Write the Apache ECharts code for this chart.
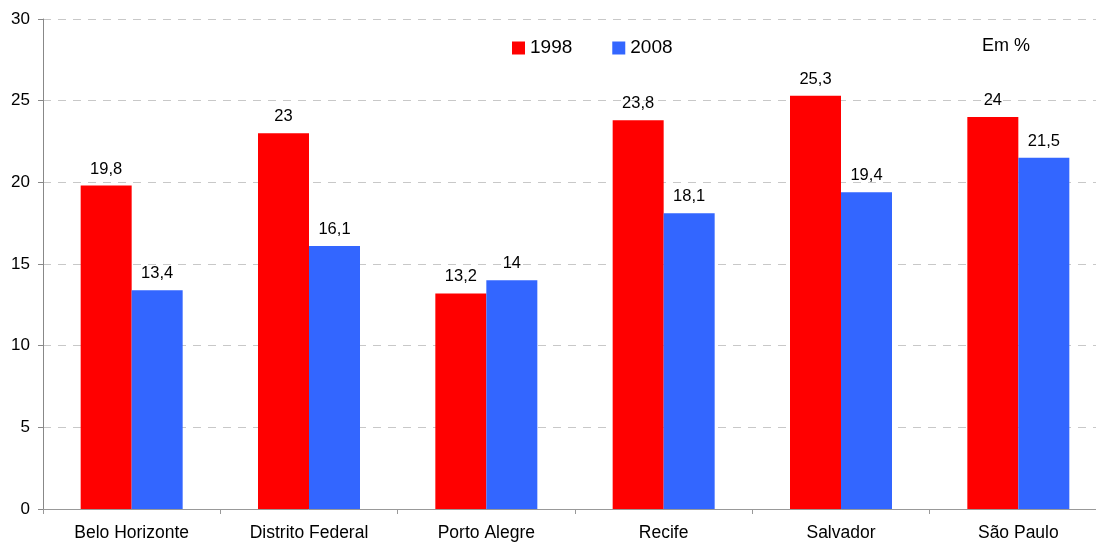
<!DOCTYPE html>
<html>
<head>
<meta charset="utf-8">
<script src="https://cdn.jsdelivr.net/npm/echarts@6/dist/echarts.min.js"></script>
<style>
html,body{margin:0;padding:0;background:#fff;overflow:hidden;}
#c{width:1110px;height:542px;}
</style>
</head>
<body>
<div id="c"></div>
<script>
var categories = ['Belo Horizonte', 'Distrito Federal', 'Porto Alegre', 'Recife', 'Salvador', 'São Paulo'];
var values1998 = [19.8, 23, 13.2, 23.8, 25.3, 24];
var values2008 = [13.4, 16.1, 14, 18.1, 19.4, 21.5];
var seriesNames = ['1998', '2008'];
var yTicks = [0, 5, 10, 15, 20, 25, 30];
var unitText = 'Em %';

var FONT = '"Liberation Sans", Arial, sans-serif';
var chart = echarts.init(document.getElementById('c'), null, {renderer: 'canvas'});

function fmt(p) { return String(p.value).replace('.', ','); }

var labelCfg = {
  show: true, position: 'top', distance: 8,
  formatter: fmt, color: '#000', fontSize: 16.5, fontFamily: FONT
};

chart.setOption({
  animation: false,
  backgroundColor: '#fff',
  grid: {left: 43, top: 19, bottom: 33, right: 3, containLabel: false},
  legend: {
    data: seriesNames,
    left: 512, top: 38.5, padding: 0,
    icon: 'rect', itemWidth: 13, itemHeight: 13, itemGap: 40,
    textStyle: {fontSize: 19, color: '#000', fontFamily: FONT}
  },
  graphic: [{
    type: 'text', left: 982, top: 37,
    style: {text: unitText, fontSize: 18, fill: '#000', fontFamily: FONT}
  }],
  xAxis: {
    type: 'category',
    data: categories,
    axisLine: {lineStyle: {color: '#999', width: 1}},
    axisTick: {show: true, length: 5, lineStyle: {color: '#999'}},
    axisLabel: {color: '#000', fontSize: 17.5, fontFamily: FONT, margin: 15, interval: 0},
    splitLine: {show: false}
  },
  yAxis: {
    type: 'value',
    min: yTicks[0], max: yTicks[yTicks.length - 1], interval: 5,
    axisLine: {show: true, lineStyle: {color: '#888', width: 1}},
    axisTick: {show: true, length: 5, lineStyle: {color: '#888'}},
    axisLabel: {color: '#000', fontSize: 17, fontFamily: FONT, margin: 13},
    splitLine: {show: true, lineStyle: {color: '#c8c8c8', type: [8, 7], width: 1}}
  },
  series: [
    {name: seriesNames[0], type: 'bar', data: values1998, barWidth: 51, barGap: '0%',
     itemStyle: {color: '#FF0000'}, label: labelCfg},
    {name: seriesNames[1], type: 'bar', data: values2008, barWidth: 51, barGap: '0%',
     itemStyle: {color: '#3366FF'}, label: labelCfg}
  ]
});
</script>
</body>
</html>
